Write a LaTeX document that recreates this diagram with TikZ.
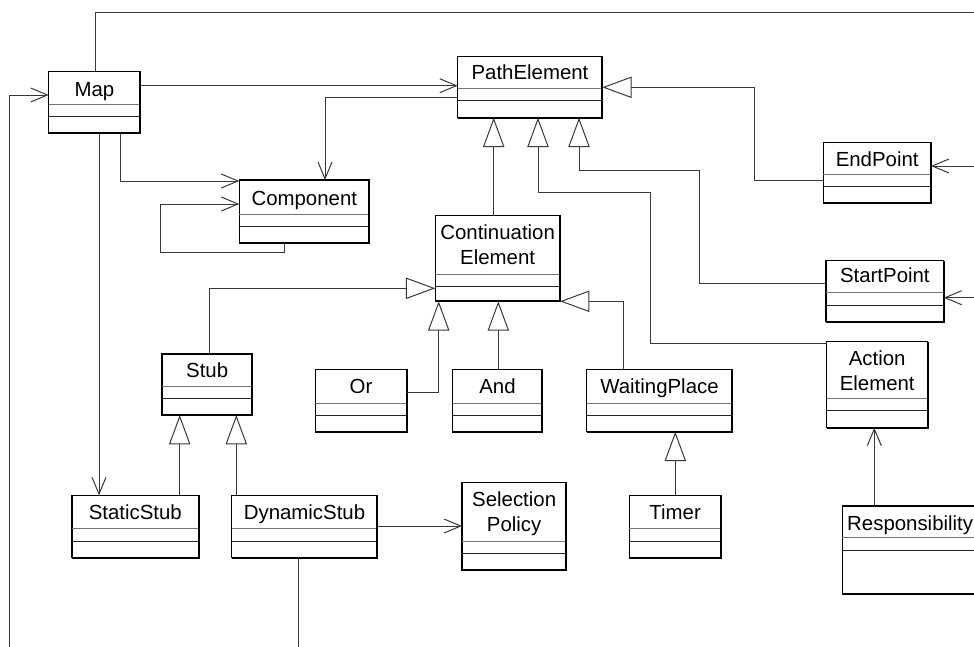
\documentclass[tikz,border=0pt]{standalone}
\usepackage{fontspec}
\setmainfont{Liberation Sans}
\usetikzlibrary{arrows.meta,fit}

% #1 name, #2 x1, #3 y1, #4 x2, #5 y2, #6/#7 compartment dividers, #8 baseline of last title line, #9 title
\newcommand\umlclass[9]{%
  \node[classfrm={(#2,#3) (#4,#5)}] (#1) {};
  \node[title] (#1-t) at ({(#2+#4)/2},#8) {#9};
  \draw[divider] (#2,#6) -- (#4,#6);
  \draw[divider2] (#2,#7) -- (#4,#7);
  \draw[shadowedge] (#2,#5) -- (#4,#5) -- (#4,#3);
}

\begin{document}
\begin{tikzpicture}[x=0.75pt,y=-0.75pt,
  conn/.style={draw=black!78, line width=0.75pt},
  assoc/.style={conn, -{Straight Barb[length=12.5pt,width=10.5pt,line width=0.75pt]}},
  gen/.style={conn, -{Triangle[open,length=22pt,width=16pt,line width=0.75pt]}},
  classfrm/.style={draw=black, line width=0.8pt, inner sep=0pt, outer sep=0pt, fit={#1}},
  title/.style={font=\fontsize{15.3}{18.75}\selectfont, align=center, inner sep=0pt, anchor=base},
  divider/.style={draw=black!55, line width=0.75pt},
  divider2/.style={draw=black!85, line width=0.75pt},
  shadowedge/.style={draw=black, line width=1.3pt}]
\useasboundingbox (0,0) rectangle (974,646);
\clip (0,0) rectangle (974,646);

% classes
\umlclass{map}{48.7}{71.3}{140}{133}{104}{116.3}{96.7}{Map}
\umlclass{pe}{457.7}{56.7}{602.3}{117.7}{88.7}{100.7}{79}{PathElement}
\umlclass{comp}{239.3}{180}{369.3}{243.3}{214.3}{226.3}{205}{Component}
\umlclass{ce}{435.3}{215.7}{560}{301.3}{274.3}{286.7}{264}{Continuation\\Element}
\umlclass{endp}{823.3}{142.3}{931}{203.3}{174.3}{186.7}{166.7}{EndPoint}
\umlclass{start}{826}{260.7}{943.7}{321.7}{292.7}{305}{282.7}{StartPoint}
\umlclass{act}{826.7}{341.7}{927.7}{427.7}{398.7}{410.7}{390.7}{Action\\Element}
\umlclass{stub}{162}{354}{252.3}{415}{386.7}{398.7}{377.3}{Stub}
\umlclass{or}{315.3}{369.3}{406.7}{432}{403.3}{415.3}{393.3}{Or}
\umlclass{and}{452.7}{369.3}{542.3}{432}{403.3}{415.3}{393.3}{And}
\umlclass{wait}{586.7}{369.3}{732.3}{431.7}{403}{415.3}{393.3}{WaitingPlace}
\umlclass{sstub}{72}{495.3}{198.7}{557.7}{528.3}{541.3}{519}{StaticStub}
\umlclass{dstub}{231.7}{495.3}{377.3}{557.7}{528.3}{541.3}{519}{DynamicStub}
\umlclass{sel}{462}{482.7}{566.3}{570}{541}{553.3}{531.7}{Selection\\Policy}
\umlclass{timer}{629.3}{495.3}{721}{557.7}{528.3}{541.3}{519}{Timer}
\umlclass{resp}{842.3}{506}{978}{594.3}{537.7}{550}{530}{Responsibility}

% loose ends leaving the drawing area
\coordinate (offTop) at (980,12);
\coordinate (offLeft) at (9,650);
\coordinate (offBottom) at (298,650);
\coordinate (offE) at (980,166);
\coordinate (offS) at (980,297.7);

% associations
\draw[conn] (map.north -| 95.7,0) |- (offTop);
\draw[assoc] (offLeft) |- (map.west |- 0,95);
\draw[assoc] (map.east |- 0,85.7) -- (pe.west |- 0,85.7);
\draw[assoc] (pe.west |- 0,97.3) -| (comp.north -| 325,0);
\draw[assoc] (map.south -| 120,0) |- (comp.west |- 0,181);
\draw[assoc] (comp.south -| 284,0) -- (284,252.7) -| (160.7,204) -- (comp.west |- 0,204);
\draw[assoc] (map.south -| 99,0) -- (sstub.north -| 99,0);
\draw[assoc] (dstub.east |- 0,526) -- (sel.west |- 0,526);
\draw[conn] (dstub.south -| offBottom) -- (offBottom);
\draw[assoc] (resp.north -| 874.3,0) -- (act.south -| 874.3,0);
\draw[assoc] (offE) -- (endp.east |- offE);
\draw[assoc] (offS) -- (start.east |- offS);

% generalizations
\draw[gen] (ce.north -| 493.7,0) -- (pe.south -| 493.7,0);
\draw[gen] (act.west |- 0,343.3) -| (650,192.7) -| (pe.south -| 538,0);
\draw[gen] (start.west |- 0,283.3) -| (699.3,170) -| (pe.south -| 579,0);
\draw[gen] (endp.west |- 0,180.7) -| (754.3,87.3) -- (pe.east |- 0,87.3);
\draw[gen] (stub.north -| 209.7,0) |- (ce.west |- 0,288.3);
\draw[gen] (or.east |- 0,392.3) -| (ce.south -| 438.7,0);
\draw[gen] (and.north -| 498.3,0) -- (ce.south -| 498.3,0);
\draw[gen] (wait.north -| 623.7,0) |- (ce.south east);
\draw[gen] (sstub.north -| 179.7,0) -- (stub.south -| 179.7,0);
\draw[gen] (dstub.north -| 236.3,0) -- (stub.south -| 236.3,0);
\draw[gen] (timer.north -| 675.3,0) -- (wait.south -| 675.3,0);
\end{tikzpicture}
\end{document}
